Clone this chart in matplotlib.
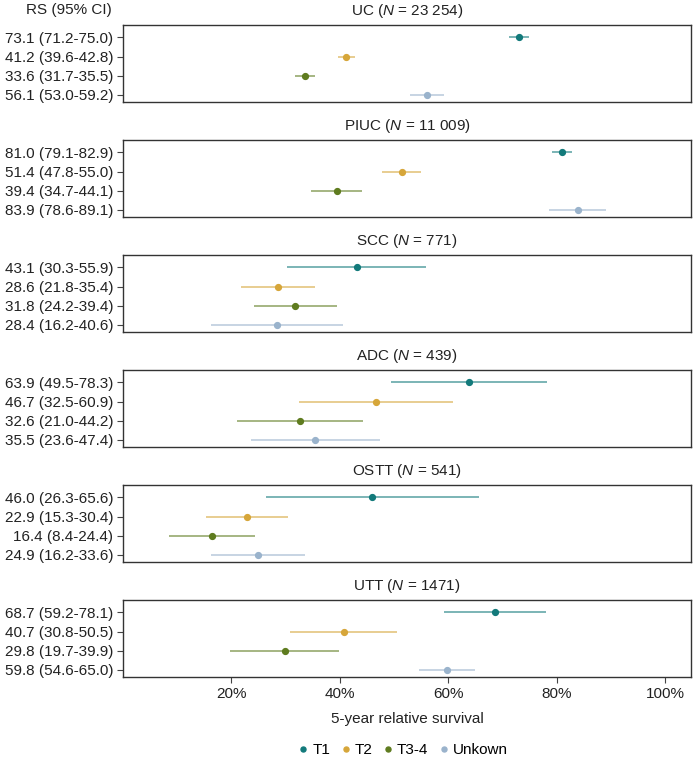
import matplotlib
matplotlib.use("Agg")
import matplotlib.pyplot as plt
from matplotlib.lines import Line2D

plt.rcParams['font.family'] = ['Liberation Sans', 'DejaVu Sans']
plt.rcParams['mathtext.fontset'] = 'custom'
plt.rcParams['mathtext.rm'] = 'Liberation Sans'
plt.rcParams['mathtext.it'] = 'Liberation Sans:italic'

# 数据
groups = ['T1', 'T2', 'T3-4', 'Unkown']
colors = ['#137a7b', '#d6a63a', '#5f7c1f', '#9ab3cc']

panels = ['UC', 'PIUC', 'SCC', 'ADC', 'OSTT', 'UTT']
panel_n = ['23 254', '11 009', '771', '439', '541', '1471']

rs = [
    [73.1, 41.2, 33.6, 56.1],
    [81.0, 51.4, 39.4, 83.9],
    [43.1, 28.6, 31.8, 28.4],
    [63.9, 46.7, 32.6, 35.5],
    [46.0, 22.9, 16.4, 24.9],
    [68.7, 40.7, 29.8, 59.8],
]
ci_low = [
    [71.2, 39.6, 31.7, 53.0],
    [79.1, 47.8, 34.7, 78.6],
    [30.3, 21.8, 24.2, 16.2],
    [49.5, 32.5, 21.0, 23.6],
    [26.3, 15.3, 8.4, 16.2],
    [59.2, 30.8, 19.7, 54.6],
]
ci_high = [
    [75.0, 42.8, 35.5, 59.2],
    [82.9, 55.0, 44.1, 89.1],
    [55.9, 35.4, 39.4, 40.6],
    [78.3, 60.9, 44.2, 47.4],
    [65.6, 30.4, 24.4, 33.6],
    [78.1, 50.5, 39.9, 65.0],
]
x_ticks = [20, 40, 60, 80, 100]

fig = plt.figure(figsize=(6.93, 7.6), dpi=100)
W, H = 693, 760
left, right = 123, 691
tops = [25, 140, 255, 370, 485, 600]
ph = 77

axes = []
for i, name in enumerate(panels):
    ax = fig.add_axes([left / W, 1 - (tops[i] + ph) / H, (right - left) / W, ph / H])
    axes.append(ax)
    for j in range(4):
        ax.plot([ci_low[i][j], ci_high[i][j]], [j, j], color=colors[j],
                alpha=0.6, linewidth=1.3, solid_capstyle='butt', zorder=2)
        ax.plot(rs[i][j], j, 'o', color=colors[j], markersize=4.2, zorder=3)
    ax.set_xlim(0, 104.8)
    ax.set_ylim(3.37, -0.65)
    ax.set_yticks(range(4))
    ax.set_yticklabels([f'{rs[i][j]:.1f} ({ci_low[i][j]:.1f}-{ci_high[i][j]:.1f})'
                        for j in range(4)], fontsize=11, color='#222222')
    ax.tick_params(axis='y', length=4, width=0.8, color='#444444', pad=3)
    ax.set_title(f'{name} ($\\it{{N}}$ = {panel_n[i]})', fontsize=11, pad=7.5,
                 color='#222222')
    for s in ax.spines.values():
        s.set_color('#333333')
        s.set_linewidth(1.0)
    if i < len(panels) - 1:
        ax.set_xticks([])
    else:
        ax.set_xticks(x_ticks)
        ax.set_xticklabels([f'{t}%' for t in x_ticks], fontsize=11, color='#222222')
        ax.tick_params(axis='x', length=4, width=0.8, color='#444444', pad=3)
        ax.set_xlabel('5-year relative survival', fontsize=11, labelpad=8,
                      color='#222222')

fig.text(112 / W, 1 - 10 / H, 'RS (95% CI)', ha='right', va='center',
         fontsize=11, color='#222222')

handles = [Line2D([], [], marker='o', linestyle='', color=c, markersize=3.6)
           for c in colors]
fig.legend(handles, groups, loc='center', bbox_to_anchor=(404 / W, 1 - 750 / H),
           ncol=4, frameon=False, fontsize=11, handletextpad=0.4,
           columnspacing=0.8, handlelength=0.4, borderpad=0.2)

fig.savefig('out.png', dpi=100)
